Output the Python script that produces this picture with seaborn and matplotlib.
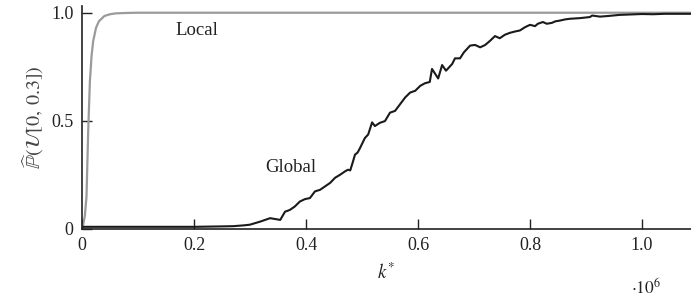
import numpy as np
import pandas as pd
import matplotlib
matplotlib.use("Agg")
import matplotlib.pyplot as plt
import seaborn as sns

# =======================
# Data (k* in units of 1e6)
# =======================
local_k = [0.0, 0.002, 0.005, 0.008, 0.011, 0.014, 0.017, 0.020, 0.025, 0.030,
           0.040, 0.050, 0.060, 0.080, 0.100, 0.200, 0.500, 1.090]
local_p = [0.0, 0.02, 0.06, 0.15, 0.45, 0.68, 0.80, 0.87, 0.93, 0.96,
           0.985, 0.993, 0.997, 0.999, 1.0, 1.0, 1.0, 1.0]

global_k = [0.0, 0.05, 0.10, 0.15, 0.20, 0.25, 0.27, 0.29, 0.30, 0.318,
            0.336, 0.354, 0.3625, 0.371, 0.38, 0.389, 0.398, 0.407, 0.416, 0.425,
            0.434, 0.443, 0.452, 0.461, 0.47, 0.475, 0.479, 0.484, 0.4875, 0.492,
            0.496, 0.505, 0.511, 0.518, 0.523, 0.532, 0.541, 0.55, 0.559, 0.568,
            0.577, 0.586, 0.595, 0.604, 0.6125, 0.621, 0.625, 0.636, 0.643, 0.65,
            0.661, 0.666, 0.675, 0.682, 0.693, 0.702, 0.711, 0.72, 0.729, 0.7375,
            0.746, 0.755, 0.764, 0.773, 0.782, 0.791, 0.8, 0.809, 0.814, 0.823,
            0.83, 0.839, 0.845, 0.854, 0.8625, 0.871, 0.889, 0.907, 0.911, 0.925,
            0.94, 0.96, 0.98, 1.0, 1.02, 1.04, 1.06, 1.09]
global_p = [0.01, 0.01, 0.01, 0.01, 0.01, 0.012, 0.013, 0.017, 0.02, 0.034,
            0.05, 0.042, 0.08, 0.088, 0.104, 0.127, 0.138, 0.143, 0.174, 0.181,
            0.197, 0.213, 0.237, 0.251, 0.267, 0.274, 0.271, 0.313, 0.344, 0.353,
            0.372, 0.42, 0.437, 0.493, 0.476, 0.491, 0.499, 0.538, 0.546, 0.577,
            0.608, 0.631, 0.639, 0.662, 0.674, 0.68, 0.74, 0.696, 0.758, 0.732,
            0.763, 0.789, 0.789, 0.817, 0.848, 0.851, 0.84, 0.851, 0.871, 0.892,
            0.882, 0.898, 0.907, 0.913, 0.918, 0.933, 0.944, 0.938, 0.949, 0.957,
            0.949, 0.953, 0.96, 0.964, 0.969, 0.972, 0.975, 0.98, 0.987, 0.982,
            0.985, 0.99, 0.992, 0.994, 0.993, 0.995, 0.995, 0.995]

x_ticks = [0, 0.2, 0.4, 0.6, 0.8, 1.0]
x_tick_labels = ["0", "0.2", "0.4", "0.6", "0.8", "1.0"]
y_ticks = [0, 0.5, 1.0]
y_tick_labels = ["0", "0.5", "1.0"]

# =======================
# Style
# =======================
sns.set_style("ticks")
plt.rcParams['font.family'] = ['Liberation Serif', 'DejaVu Serif']
plt.rcParams['mathtext.fontset'] = 'stix'
plt.rcParams['font.size'] = 13

df_local = pd.DataFrame({"k": local_k, "p": local_p})
df_global = pd.DataFrame({"k": global_k, "p": global_p})

fig = plt.figure(figsize=(6.91, 2.97), dpi=100)
ax = fig.add_axes([0.1187, 0.229, 0.8813, 0.75])

sns.lineplot(data=df_local, x="k", y="p", ax=ax, color="#9a9a9a", linewidth=1.6)
sns.lineplot(data=df_global, x="k", y="p", ax=ax, color="#1a1a1a", linewidth=1.5)

ax.set_xlim(0, 1.0875)
ax.set_ylim(0, 1.03)
ax.set_xticks(x_ticks)
ax.set_xticklabels(x_tick_labels)
ax.set_yticks(y_ticks)
ax.set_yticklabels(y_tick_labels)
ax.tick_params(direction="in", length=7, width=1, colors="#222222", labelcolor="#222222",
               labelsize=13, pad=6)
for side in ["top", "right"]:
    ax.spines[side].set_visible(False)
for side in ["left", "bottom"]:
    ax.spines[side].set_linewidth(1.2)
    ax.spines[side].set_color("#222222")

ax.set_xlabel("$k^{*}$", fontsize=13.5, color="#222222", labelpad=6)
ax.set_ylabel(r"$\widehat{\mathbb{P}}(\mathcal{U}[0,\, 0.3])$", fontsize=14.5, color="#444444", labelpad=4)

ax.text(0.205, 0.92, "Local", ha="center", va="center", fontsize=13.5, color="#222222")
ax.text(0.372, 0.285, "Global", ha="center", va="center", fontsize=13.5, color="#222222")
fig.text(0.935, 0.03, r"$\cdot 10^{6}$", ha="center", va="center", fontsize=12.5, color="#222222")

plt.savefig("out.png", dpi=100)
plt.close()
